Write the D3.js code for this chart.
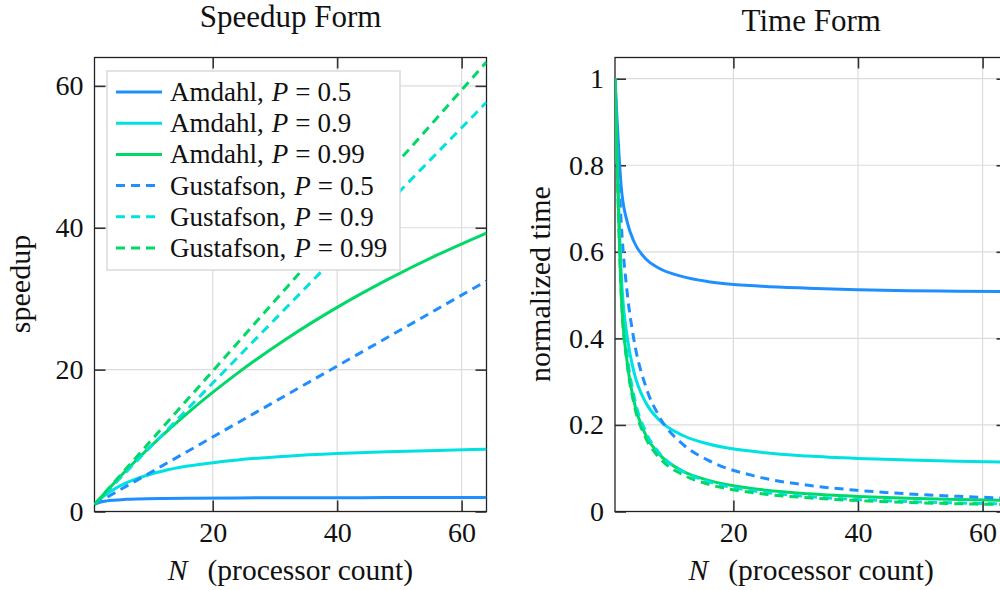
<!DOCTYPE html>
<html>
<head>
<meta charset="utf-8">
<script src="https://cdn.jsdelivr.net/npm/d3@7"></script>
<style>
	body { margin: 0; background: #fff; }
	svg { display: block; font-family: "Liberation Serif", "Times New Roman", serif; }
</style>
</head>
<body>
<svg id="chart" width="1000" height="590"></svg>
<script>
const nValues = [1, 2, 3, 4, 6, 8, 12, 16, 24, 32, 40, 48, 56, 64];

const speedupAmdahl05   = [1, 1.333, 1.5, 1.6, 1.714, 1.778, 1.846, 1.882, 1.92, 1.939, 1.951, 1.959, 1.965, 1.969];
const speedupAmdahl09   = [1, 1.818, 2.5, 3.077, 4.0, 4.706, 5.714, 6.4, 7.273, 7.805, 8.163, 8.421, 8.615, 8.767];
const speedupAmdahl099  = [1, 1.98, 2.941, 3.883, 5.714, 7.477, 10.81, 13.91, 19.51, 24.43, 28.78, 32.65, 36.13, 39.26];
const speedupGustafson05  = [1, 1.5, 2, 2.5, 3.5, 4.5, 6.5, 8.5, 12.5, 16.5, 20.5, 24.5, 28.5, 32.5];
const speedupGustafson09  = [1, 1.9, 2.8, 3.7, 5.5, 7.3, 10.9, 14.5, 21.7, 28.9, 36.1, 43.3, 50.5, 57.7];
const speedupGustafson099 = [1, 1.99, 2.98, 3.97, 5.95, 7.93, 11.89, 15.85, 23.77, 31.69, 39.61, 47.53, 55.45, 63.37];

const timeAmdahl05   = [1, 0.75, 0.667, 0.625, 0.583, 0.5625, 0.542, 0.531, 0.521, 0.516, 0.5125, 0.51, 0.509, 0.508];
const timeAmdahl09   = [1, 0.55, 0.4, 0.325, 0.25, 0.2125, 0.175, 0.156, 0.1375, 0.128, 0.1225, 0.119, 0.116, 0.114];
const timeAmdahl099  = [1, 0.505, 0.34, 0.2575, 0.175, 0.134, 0.0925, 0.0719, 0.0513, 0.0409, 0.0348, 0.0306, 0.0277, 0.0255];
const timeGustafson05  = [1, 0.667, 0.5, 0.4, 0.286, 0.222, 0.154, 0.118, 0.08, 0.0606, 0.0488, 0.0408, 0.0351, 0.0308];
const timeGustafson09  = [1, 0.526, 0.357, 0.27, 0.182, 0.137, 0.0917, 0.069, 0.0461, 0.0346, 0.0277, 0.0231, 0.0198, 0.0173];
const timeGustafson099 = [1, 0.503, 0.336, 0.252, 0.168, 0.126, 0.0841, 0.0631, 0.0421, 0.0316, 0.0252, 0.021, 0.018, 0.0158];

const legendNames  = ["Amdahl", "Amdahl", "Amdahl", "Gustafson", "Gustafson", "Gustafson"];
const legendPvalues = ["0.5", "0.9", "0.99", "0.5", "0.9", "0.99"];

const xTicks = [20, 40, 60];
const speedupTicks = [0, 20, 40, 60];
const timeTicks = [0, 0.2, 0.4, 0.6, 0.8, 1];


// Styles, one per series, same order as the legend.
const seriesColors = ["#1f8fff", "#00e1e1", "#00d867", "#1f8fff", "#00e1e1", "#00d867"];
const seriesDashed = [false, false, false, true, true, true];

const tickLength = 11;


function drawPanel(svg, cfg){
	// cfg: box, ydomain, yticks, series, title, ylabel ...
	let box = cfg.box;
	
	let x = d3.scaleLinear().domain([1, 64]).range([box.left, box.right]);
	let y = d3.scaleLinear().domain(cfg.ydomain).range([box.bottom, box.top]);
	
	let g = svg.append("g");
	
	// Clip so the curves stay inside the frame.
	g.append("clipPath")
	  .attr("id", cfg.id + "-clip")
	  .append("rect")
	  .attr("x", box.left).attr("y", box.top)
	  .attr("width", box.right - box.left).attr("height", box.bottom - box.top);
	
	// Grid.
	let grid = g.append("g").attr("stroke", "#dcdcdc").attr("stroke-width", 1.2);
	grid.selectAll("line.vx")
	  .data(xTicks)
	  .join("line")
	  .attr("x1", d=>x(d)).attr("x2", d=>x(d))
	  .attr("y1", box.top).attr("y2", box.bottom);
	grid.selectAll("line.hy")
	  .data(cfg.yticks)
	  .join("line")
	  .attr("x1", box.left).attr("x2", box.right)
	  .attr("y1", d=>y(d)).attr("y2", d=>y(d));
	
	// Axes with inward ticks, mirrored on top and right.
	let fontSize = 28;
	let left = g.append("g")
	  .attr("transform", `translate(${box.left},0)`)
	  .call(d3.axisLeft(y).tickValues(cfg.yticks).tickSize(-tickLength).tickPadding(11).tickFormat(d=>String(d)));
	let right = g.append("g")
	  .attr("transform", `translate(${box.right},0)`)
	  .call(d3.axisRight(y).tickValues(cfg.yticks).tickSize(-tickLength).tickFormat(""));
	let bottom = g.append("g")
	  .attr("transform", `translate(0,${box.bottom})`)
	  .call(d3.axisBottom(x).tickValues(xTicks).tickSize(-tickLength).tickPadding(11).tickFormat(d=>String(d)));
	let top = g.append("g")
	  .attr("transform", `translate(0,${box.top})`)
	  .call(d3.axisTop(x).tickValues(xTicks).tickSize(-tickLength).tickFormat(""));
	
	[left, right, bottom, top].forEach(a=>{
		a.select(".domain").remove();
		a.selectAll(".tick line").attr("stroke", "#333").attr("stroke-width", 1.6);
		a.selectAll(".tick text")
		  .attr("fill", "#111")
		  .attr("font-family", "Liberation Serif, serif")
		  .attr("font-size", fontSize);
	});
	
	// Frame.
	g.append("rect")
	  .attr("x", box.left).attr("y", box.top)
	  .attr("width", box.right - box.left).attr("height", box.bottom - box.top)
	  .attr("fill", "none")
	  .attr("stroke", "#222")
	  .attr("stroke-width", 1.3);
	
	// Curves.
	let line = d3.line()
	  .x((d,i)=>x(nValues[i]))
	  .y(d=>y(d))
	  .curve(d3.curveMonotoneX);
	
	g.append("g")
	  .attr("clip-path", `url(#${cfg.id}-clip)`)
	  .selectAll("path")
	  .data(cfg.series)
	  .join("path")
	  .attr("d", d=>line(d))
	  .attr("fill", "none")
	  .attr("stroke", (d,i)=>seriesColors[i])
	  .attr("stroke-width", 3)
	  .attr("stroke-dasharray", (d,i)=>seriesDashed[i] ? "9,6" : null);
	
	// Title.
	let cx = (box.left + box.right)/2;
	svg.append("text")
	  .attr("x", cx).attr("y", cfg.titleY)
	  .attr("text-anchor", "middle")
	  .attr("font-size", 31)
	  .attr("fill", "#111")
	  .text(cfg.title);
	
	// x label.
	let xl = svg.append("text")
	  .attr("x", cx).attr("y", 580)
	  .attr("text-anchor", "middle")
	  .attr("font-size", 29.5)
	  .attr("fill", "#111");
	xl.append("tspan").attr("font-style", "italic").text("N");
	xl.append("tspan").attr("dx", 20).text("(processor count)");
	
	// y label.
	svg.append("text")
	  .attr("transform", `translate(${cfg.ylabelX},284) rotate(-90)`)
	  .attr("text-anchor", "middle")
	  .attr("font-size", 30)
	  .attr("fill", "#111")
	  .text(cfg.ylabel);
	
	return {x, y}
	
} // drawPanel


function drawLegend(svg){
	let lg = svg.append("g");
	
	lg.append("rect")
	  .attr("x", 107).attr("y", 71)
	  .attr("width", 293).attr("height", 199)
	  .attr("fill", "#fff")
	  .attr("stroke", "#d4d4d4")
	  .attr("stroke-width", 1.3);
	
	let rows = lg.selectAll("g.row")
	  .data(legendNames)
	  .join("g")
	  .attr("class", "row")
	  .attr("transform", (d,i)=>`translate(0,${92 + i*31.2})`);
	
	rows.append("line")
	  .attr("x1", 116).attr("x2", (d,i)=>seriesDashed[i] ? 158 : 162)
	  .attr("stroke", (d,i)=>seriesColors[i])
	  .attr("stroke-width", 3)
	  .attr("stroke-dasharray", (d,i)=>seriesDashed[i] ? "9,6" : null);
	
	let txt = rows.append("text")
	  .attr("x", 170).attr("y", 9)
	  .attr("font-size", 27)
	  .attr("fill", "#111");
	txt.append("tspan").text(d=>d + ",");
	txt.append("tspan").attr("dx", 8).attr("font-style", "italic").text("P");
	txt.append("tspan").attr("dx", 7).text("=");
	txt.append("tspan").attr("dx", 7).text((d,i)=>legendPvalues[i]);
	
} // drawLegend


let svg = d3.select("#chart");

drawPanel(svg, {
	id: "speedup",
	box: {left: 94.5, right: 486.5, top: 57.5, bottom: 511.5},
	ydomain: [0, 64],
	yticks: speedupTicks,
	series: [speedupAmdahl05, speedupAmdahl09, speedupAmdahl099, speedupGustafson05, speedupGustafson09, speedupGustafson099],
	title: "Speedup Form",
	titleY: 27,
	ylabel: "speedup",
	ylabelX: 30
});

drawPanel(svg, {
	id: "time",
	box: {left: 615, right: 1007.5, top: 57.5, bottom: 511.5},
	ydomain: [0, 1.049],
	yticks: timeTicks,
	series: [timeAmdahl05, timeAmdahl09, timeAmdahl099, timeGustafson05, timeGustafson09, timeGustafson099],
	title: "Time Form",
	titleY: 31,
	ylabel: "normalized time",
	ylabelX: 550
});

drawLegend(svg);
</script>
</body>
</html>
